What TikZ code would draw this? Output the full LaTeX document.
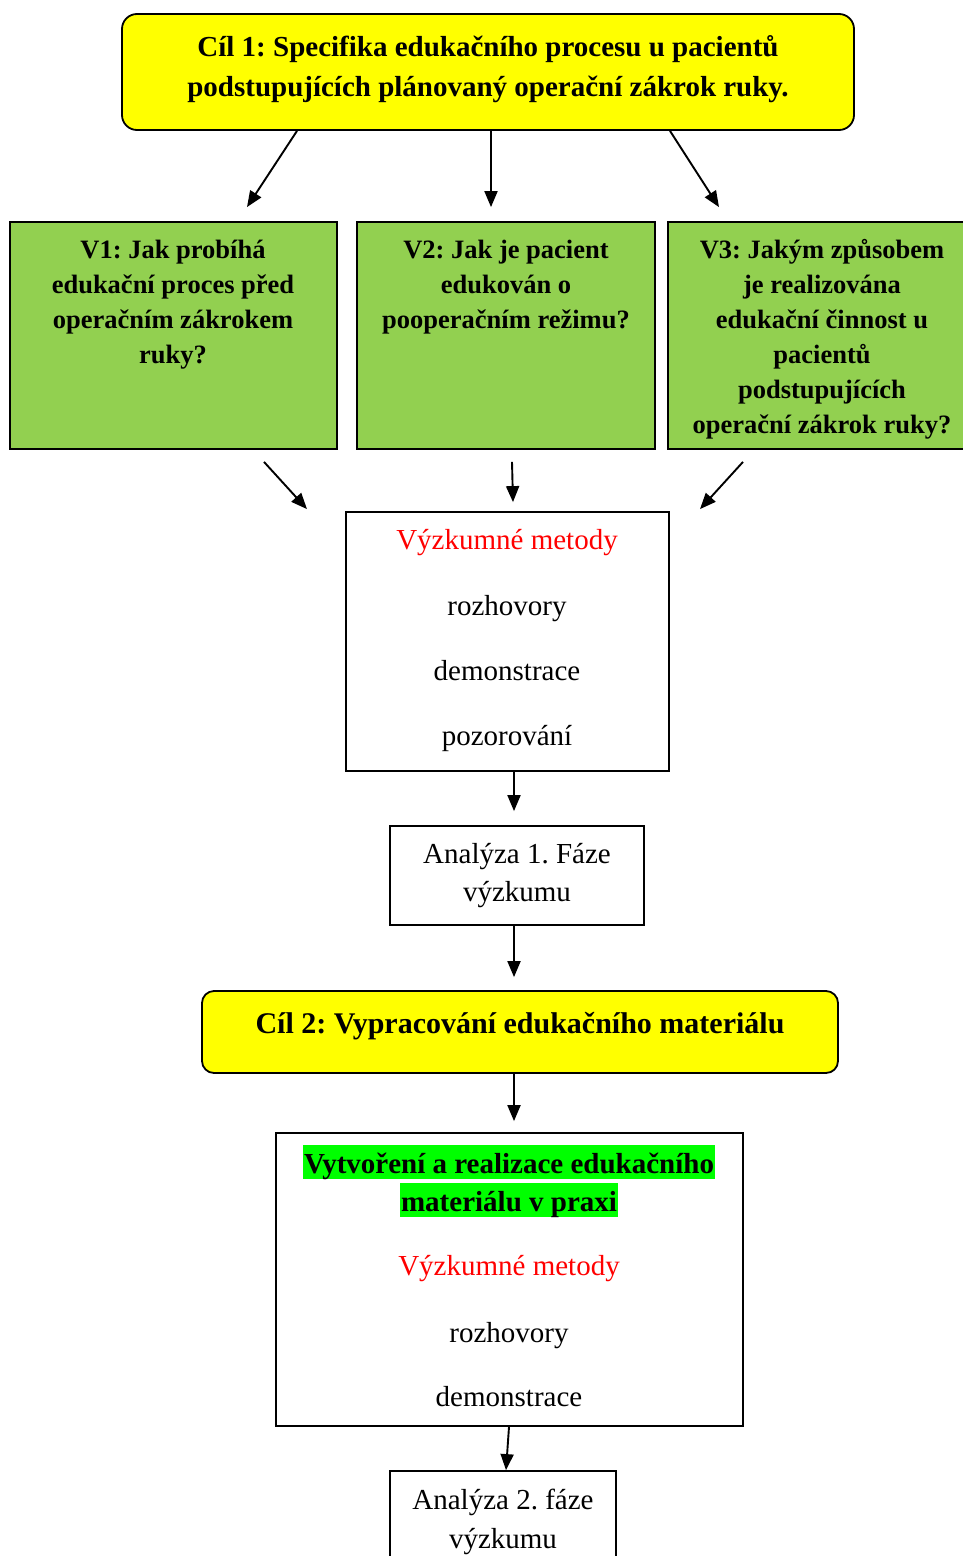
\documentclass[tikz,border=0pt]{standalone}
\usepackage{fontspec}
\setmainfont{Liberation Serif}
\usetikzlibrary{arrows.meta}
\frenchspacing
\definecolor{cilyellow}{RGB}{255,255,0}
\definecolor{vgreen}{RGB}{146,208,80}
\definecolor{hlgreen}{RGB}{0,255,0}
\definecolor{metred}{RGB}{255,0,0}
\tikzset{
  boxbase/.style={draw=black, line width=1.8pt, rectangle, inner sep=0pt},
  cilbox/.style={boxbase, fill=cilyellow, rounded corners=15pt},
  vbox/.style={boxbase, fill=vgreen},
  wbox/.style={boxbase, fill=white},
  arr/.style={line width=1.9pt, -{Triangle[length=16pt,width=13pt]}},
  reg/.style={anchor=base, inner sep=0pt, font=\frenchspacing\fontsize{29}{34}\selectfont},
  redt/.style={reg, text=metred},
  cilt/.style={anchor=base, inner sep=0pt, font=\frenchspacing\fontsize{29}{34}\selectfont\bfseries},
  cilbt/.style={anchor=base, inner sep=0pt, font=\frenchspacing\fontsize{30}{36}\selectfont\bfseries},
  vt/.style={anchor=base, inner sep=0pt, font=\frenchspacing\fontsize{26.5}{32}\selectfont\bfseries},
  hlt/.style={anchor=base, inner xsep=1pt, inner ysep=0pt, fill=hlgreen, text height=28pt, text depth=6pt, font=\frenchspacing\fontsize{29}{34}\selectfont\bfseries}
}
\begin{document}
\begin{tikzpicture}[x=1pt,y=-1pt]
\useasboundingbox (0,0) rectangle (963,1556);
% boxes
\node[cilbox, minimum width=732pt, minimum height=116pt] (c1) at (488,72) {};
\node[vbox, minimum width=327pt, minimum height=227pt] (v1) at (173.5,335.5) {};
\node[vbox, minimum width=298pt, minimum height=227pt] (v2) at (506,335.5) {};
\node[vbox, minimum width=298pt, minimum height=227pt] (v3) at (817,335.5) {};
\node[wbox, minimum width=323pt, minimum height=259pt] (m1) at (507.5,641.5) {};
\node[wbox, minimum width=254pt, minimum height=99pt] (a1) at (517,875.5) {};
\node[cilbox, rounded corners=12pt, minimum width=636pt, minimum height=82pt] (c2) at (520,1032) {};
\node[wbox, minimum width=467pt, minimum height=293pt] (m2) at (509.5,1279.5) {};
\node[wbox, minimum width=226pt, minimum height=99pt] (a2) at (503,1520.5) {};
% texts
\node[cilt] (c1l1) at (488,56) {Cíl 1: Specifika edukačního procesu u pacientů};
\node[cilt] (c1l2) at (488,96) {podstupujících plánovaný operační zákrok ruky.};
\node[vt] (v1l1) at (173,258) {V1: Jak probíhá};
\node[vt] (v1l2) at (173,293) {edukační proces před};
\node[vt] (v1l3) at (173,328) {operačním zákrokem};
\node[vt] (v1l4) at (173,363) {ruky?};
\node[vt] (v2l1) at (506,258) {V2: Jak je pacient};
\node[vt] (v2l2) at (506,293) {edukován o};
\node[vt] (v2l3) at (506,328) {pooperačním režimu?};
\node[vt] (v3l1) at (822,258) {V3: Jakým způsobem};
\node[vt] (v3l2) at (822,293) {je realizována};
\node[vt] (v3l3) at (822,328) {edukační činnost u};
\node[vt] (v3l4) at (822,363) {pacientů};
\node[vt] (v3l5) at (822,398) {podstupujících};
\node[vt] (v3l6) at (822,433) {operační zákrok ruky?};
\node[redt] (m1l1) at (507,549) {Výzkumné metody};
\node[reg] (m1l2) at (507,615) {rozhovory};
\node[reg] (m1l3) at (507,680) {demonstrace};
\node[reg] (m1l4) at (507,745) {pozorování};
\node[reg] (a1l1) at (517,863) {Analýza 1. Fáze};
\node[reg] (a1l2) at (517,901) {výzkumu};
\node[cilbt] (c2l1) at (520,1033) {Cíl 2: Vypracování edukačního materiálu};
\node[hlt] (m2l1) at (509,1173) {Vytvoření a realizace edukačního};
\node[hlt] (m2l2) at (509,1211) {materiálu v praxi};
\node[redt] (m2l3) at (509,1275) {Výzkumné metody};
\node[reg] (m2l4) at (509,1342) {rozhovory};
\node[reg] (m2l5) at (509,1406) {demonstrace};
\node[reg] (a2l1) at (503,1509) {Analýza 2. fáze};
\node[reg] (a2l2) at (503,1548) {výzkumu};
% connectors
\draw[arr] ([xshift=-191pt]c1.south) -- ([xshift=73.5pt,yshift=14pt]v1.north);
\draw[arr] ([xshift=3pt]c1.south) -- ([xshift=-15pt,yshift=14pt]v2.north);
\draw[arr] ([xshift=182pt]c1.south) -- ([xshift=-98pt,yshift=14pt]v3.north);
\draw[arr] ([xshift=90.5pt,yshift=-12pt]v1.south) -- ([xshift=-200.5pt,yshift=2pt]m1.north);
\draw[arr] ([xshift=6pt,yshift=-12pt]v2.south) -- ([xshift=5.5pt,yshift=9pt]m1.north);
\draw[arr] ([xshift=-74pt,yshift=-12pt]v3.south) -- ([xshift=192.5pt,yshift=2pt]m1.north);
\draw[arr] ([xshift=6.5pt]m1.south) -- ([xshift=-3pt,yshift=14pt]a1.north);
\draw[arr] ([xshift=-3pt]a1.south) -- ([xshift=-6pt,yshift=13pt]c2.north);
\draw[arr] ([xshift=-6pt]c2.south) -- ([xshift=4.5pt,yshift=11pt]m2.north);
\draw[arr] ([xshift=-0.5pt]m2.south) -- ([xshift=3pt]a2.north);
\end{tikzpicture}
\end{document}
